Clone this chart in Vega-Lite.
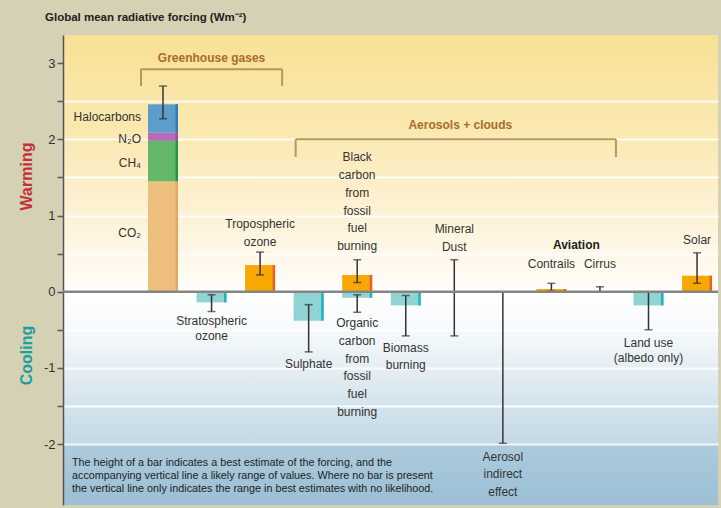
{
  "$schema": "https://vega.github.io/schema/vega-lite/v6.json",
  "width": 655,
  "height": 470,
  "autosize": {"type": "none"},
  "padding": {"left": 63, "top": 35, "right": 3, "bottom": 3},
  "background": "#d5d1b5",
  "title": {
    "text": "Global mean radiative forcing (Wm⁻²)",
    "anchor": "start",
    "frame": "group",
    "dx": -18,
    "offset": 12,
    "fontSize": 11.5,
    "fontWeight": "bold",
    "color": "#222222",
    "font": "Liberation Sans"
  },
  "config": {
    "font": "Liberation Sans",
    "view": {
      "stroke": null,
      "fill": {
        "gradient": "linear",
        "x1": 0, "y1": 0, "x2": 0, "y2": 1,
        "stops": [
          {"offset": 0, "color": "#f8e196"},
          {"offset": 0.2, "color": "#fae8b0"},
          {"offset": 0.38, "color": "#fdf2d6"},
          {"offset": 0.5, "color": "#fffaf0"},
          {"offset": 0.55, "color": "#ffffff"},
          {"offset": 0.63, "color": "#f5f9fb"},
          {"offset": 0.71, "color": "#e5eef3"},
          {"offset": 0.79, "color": "#d3e3ec"},
          {"offset": 0.869, "color": "#c4d9e5"},
          {"offset": 0.872, "color": "#adcbdc"},
          {"offset": 1, "color": "#9bbfd4"}
        ]
      }
    }
  },
  "datasets": {
    "bars": [
      {"cat": "GHG", "kind": "CO₂", "value": 1.45, "seg": 1},
      {"cat": "GHG", "kind": "CH₄", "value": 0.53, "seg": 2},
      {"cat": "GHG", "kind": "N₂O", "value": 0.11, "seg": 3},
      {"cat": "GHG", "kind": "Halocarbons", "value": 0.37, "seg": 4},
      {"cat": "Stratospheric ozone", "kind": "cooling", "value": -0.14, "seg": 1},
      {"cat": "Tropospheric ozone", "kind": "warming", "value": 0.35, "seg": 1},
      {"cat": "Sulphate", "kind": "cooling", "value": -0.38, "seg": 1},
      {"cat": "Fossil fuel carbon", "kind": "warming", "value": 0.22, "seg": 1},
      {"cat": "Fossil fuel carbon", "kind": "cooling", "value": -0.08, "seg": 1},
      {"cat": "Biomass burning", "kind": "cooling", "value": -0.18, "seg": 1},
      {"cat": "Contrails", "kind": "warming", "value": 0.035, "seg": 1},
      {"cat": "Land use", "kind": "cooling", "value": -0.18, "seg": 1},
      {"cat": "Solar", "kind": "warming", "value": 0.21, "seg": 1}
    ],
    "errs": [
      {"cat": "GHG", "lo": 2.27, "hi": 2.7},
      {"cat": "Stratospheric ozone", "lo": -0.26, "hi": -0.04},
      {"cat": "Tropospheric ozone", "lo": 0.22, "hi": 0.52},
      {"cat": "Sulphate", "lo": -0.79, "hi": -0.17},
      {"cat": "Fossil fuel carbon", "lo": 0.12, "hi": 0.42},
      {"cat": "Fossil fuel carbon", "lo": -0.27, "hi": -0.04},
      {"cat": "Biomass burning", "lo": -0.58, "hi": -0.05},
      {"cat": "Mineral dust", "lo": -0.58, "hi": 0.42},
      {"cat": "Aerosol indirect effect", "lo": -1.99, "hi": 0},
      {"cat": "Contrails", "lo": 0.01, "hi": 0.11},
      {"cat": "Cirrus", "lo": 0, "hi": 0.065},
      {"cat": "Land use", "lo": -0.5, "hi": 0},
      {"cat": "Solar", "lo": 0.11, "hi": 0.51}
    ],
    "labels": [
      {"cat": "Tropospheric ozone", "label": "Tropospheric\nozone", "ly": 0.887},
      {"cat": "Sulphate", "label": "Sulphate", "ly": -0.95},
      {"cat": "Fossil fuel carbon", "label": "Black\ncarbon\nfrom\nfossil\nfuel\nburning", "ly": 1.762},
      {"cat": "Fossil fuel carbon", "label": "Organic\ncarbon\nfrom\nfossil\nfuel\nburning", "ly": -0.416},
      {"cat": "Biomass burning", "label": "Biomass\nburning", "ly": -0.736},
      {"cat": "Mineral dust", "label": "Mineral\nDust", "ly": 0.818},
      {"cat": "Aerosol indirect effect", "label": "Aerosol\nindirect\neffect", "ly": -2.167},
      {"cat": "Contrails", "label": "Contrails", "ly": 0.36},
      {"cat": "Cirrus", "label": "Cirrus", "ly": 0.36},
      {"cat": "Solar", "label": "Solar", "ly": 0.68},
      {"cat": "Stratospheric ozone", "label": "Stratospheric\nozone", "ly": -0.382},
      {"cat": "Land use", "label": "Land use\n(albedo only)", "ly": -0.671}
    ],
    "parts": [
      {"cat": "GHG", "label": "Halocarbons", "ly": 2.29},
      {"cat": "GHG", "label": "N₂O", "ly": 2.01},
      {"cat": "GHG", "label": "CH₄", "ly": 1.69},
      {"cat": "GHG", "label": "CO₂", "ly": 0.765}
    ]
  },
  "layer": [
    {
      "layer": [
        {
          "data": {"name": "bars"},
          "mark": {"type": "bar"},
          "encoding": {
            "x": {
              "field": "cat", "type": "nominal",
              "scale": {
                "domain": ["GHG", "Stratospheric ozone", "Tropospheric ozone", "Sulphate", "Fossil fuel carbon", "Biomass burning", "Mineral dust", "Aerosol indirect effect", "Contrails", "Cirrus", "Land use", "Solar"],
                "paddingInner": 0.382, "paddingOuter": 0.9366, "align": 0.9346
              },
              "axis": null
            },
            "y": {
              "field": "value", "type": "quantitative", "stack": "zero",
              "scale": {"domain": [-2.8, 3.37], "nice": false, "zero": false},
              "axis": {
                "title": "Warming",
                "titleColor": "#c4303a",
                "titleFontSize": 16,
                "titleFontWeight": "bold",
                "titleX": -37,
                "titleY": 141,
                "titleAlign": "center",
                "titleBaseline": "middle",
                "values": [-2, -1.5, -1, -0.5, 0, 0.5, 1, 1.5, 2, 2.5, 3],
                "labelExpr": "datum.value % 1 == 0 ? '' + datum.value : ''",
                "labelFontSize": 13,
                "labelColor": "#333333",
                "labelPadding": 2,
                "tickColor": "#555555",
                "tickSize": 6,
                "tickWidth": 1.5,
                "domainColor": "#555555",
                "domainWidth": 1.5,
                "grid": true,
                "gridColor": "#ffffff",
                "gridWidth": 2,
                "gridOpacity": {"condition": {"test": "datum.value == 3 || datum.value == 0", "value": 0}, "value": 0.85}
              }
            },
            "order": {"field": "seg", "type": "quantitative"},
            "color": {
              "field": "kind", "type": "nominal", "legend": null,
              "scale": {
                "domain": ["CO₂", "CH₄", "N₂O", "Halocarbons", "warming", "cooling"],
                "range": ["#ecc07c", "#62b868", "#b46cb8", "#5e9ccc", "#f8a800", "#8fd3d3"]
              }
            }
          }
        },
        {
          "data": {"name": "bars"},
          "mark": {"type": "bar", "width": 2.5, "xOffset": 13.75},
          "encoding": {
            "x": {"field": "cat", "type": "nominal"},
            "y": {"field": "value", "type": "quantitative", "stack": "zero"},
            "order": {"field": "seg", "type": "quantitative"},
            "fill": {
              "field": "kind", "type": "nominal", "legend": null,
              "scale": {
                "domain": ["CO₂", "CH₄", "N₂O", "Halocarbons", "warming", "cooling"],
                "range": ["#deaa62", "#1a9a48", "#9a50a0", "#2c7ab8", "#e8602a", "#20b4c0"]
              }
            }
          }
        },
        {
          "data": {"name": "errs"},
          "mark": {"type": "rule", "color": "#333333", "strokeWidth": 1.5},
          "encoding": {
            "x": {"field": "cat", "type": "nominal"},
            "y": {"field": "lo", "type": "quantitative"},
            "y2": {"field": "hi"}
          }
        },
        {
          "data": {"name": "errs"},
          "mark": {"type": "tick", "color": "#333333", "thickness": 1.5, "size": 8},
          "encoding": {
            "x": {"field": "cat", "type": "nominal"},
            "y": {"field": "lo", "type": "quantitative"}
          }
        },
        {
          "data": {"name": "errs"},
          "mark": {"type": "tick", "color": "#333333", "thickness": 1.5, "size": 8},
          "encoding": {
            "x": {"field": "cat", "type": "nominal"},
            "y": {"field": "hi", "type": "quantitative"}
          }
        },
        {
          "data": {"values": [{}]},
          "mark": {"type": "rule", "color": "#b39a55", "strokeWidth": 2, "xOffset": -22, "x2Offset": 22},
          "encoding": {
            "x": {"datum": "GHG"},
            "x2": {"datum": "Tropospheric ozone"},
            "y": {"datum": 2.92}
          }
        },
        {
          "data": {"values": [{}]},
          "mark": {"type": "rule", "color": "#b39a55", "strokeWidth": 2, "xOffset": -22},
          "encoding": {"x": {"datum": "GHG"}, "y": {"datum": 2.92}, "y2": {"datum": 2.7}}
        },
        {
          "data": {"values": [{}]},
          "mark": {"type": "rule", "color": "#b39a55", "strokeWidth": 2, "xOffset": 22},
          "encoding": {"x": {"datum": "Tropospheric ozone"}, "y": {"datum": 2.92}, "y2": {"datum": 2.7}}
        },
        {
          "data": {"values": [{}]},
          "mark": {"type": "rule", "color": "#b39a55", "strokeWidth": 2, "xOffset": -13, "x2Offset": 16},
          "encoding": {
            "x": {"datum": "Sulphate"},
            "x2": {"datum": "Cirrus"},
            "y": {"datum": 2.0}
          }
        },
        {
          "data": {"values": [{}]},
          "mark": {"type": "rule", "color": "#b39a55", "strokeWidth": 2, "xOffset": -13},
          "encoding": {"x": {"datum": "Sulphate"}, "y": {"datum": 2.0}, "y2": {"datum": 1.77}}
        },
        {
          "data": {"values": [{}]},
          "mark": {"type": "rule", "color": "#b39a55", "strokeWidth": 2, "xOffset": 16},
          "encoding": {"x": {"datum": "Cirrus"}, "y": {"datum": 2.0}, "y2": {"datum": 1.77}}
        },
        {
          "data": {"values": [{"group": "Greenhouse gases"}]},
          "mark": {"type": "text", "color": "#a86c2c", "fontSize": 12, "fontWeight": "bold", "baseline": "middle"},
          "encoding": {
            "x": {"datum": "Stratospheric ozone"},
            "y": {"datum": 3.07},
            "text": {"field": "group"}
          }
        },
        {
          "data": {"values": [{"group": "Aerosols + clouds"}]},
          "mark": {"type": "text", "color": "#a86c2c", "fontSize": 12, "fontWeight": "bold", "baseline": "middle", "dx": 6},
          "encoding": {
            "x": {"datum": "Mineral dust"},
            "y": {"datum": 2.19},
            "text": {"field": "group"}
          }
        },
        {
          "data": {"name": "labels"},
          "transform": [{"filter": "datum.cat != 'Stratospheric ozone' && datum.cat != 'Land use'"}],
          "mark": {"type": "text", "color": "#333333", "fontSize": 12, "baseline": "middle", "lineBreak": "\n", "lineHeight": 17.7},
          "encoding": {
            "x": {"field": "cat", "type": "nominal"},
            "y": {"field": "ly", "type": "quantitative"},
            "text": {"field": "label"}
          }
        },
        {
          "data": {"name": "labels"},
          "transform": [{"filter": "datum.cat == 'Stratospheric ozone' || datum.cat == 'Land use'"}],
          "mark": {"type": "text", "color": "#333333", "fontSize": 12, "baseline": "middle", "lineBreak": "\n", "lineHeight": 15.5},
          "encoding": {
            "x": {"field": "cat", "type": "nominal"},
            "y": {"field": "ly", "type": "quantitative"},
            "text": {"field": "label"}
          }
        },
        {
          "data": {"name": "parts"},
          "mark": {"type": "text", "color": "#333333", "fontSize": 12, "baseline": "middle", "align": "right", "dx": -22},
          "encoding": {
            "x": {"field": "cat", "type": "nominal"},
            "y": {"field": "ly", "type": "quantitative"},
            "text": {"field": "label"}
          }
        },
        {
          "data": {"values": [{"head": "Aviation"}]},
          "mark": {"type": "text", "color": "#222222", "fontSize": 12, "fontWeight": "bold", "baseline": "middle", "dx": 25},
          "encoding": {
            "x": {"datum": "Contrails"},
            "y": {"datum": 0.61},
            "text": {"field": "head"}
          }
        },
        {
          "data": {"values": [{"note": "The height of a bar indicates a best estimate of the forcing, and the\naccompanying vertical line a likely range of values.  Where no bar is present\nthe vertical line only indicates the range in best estimates with no likelihood."}]},
          "mark": {"type": "text", "color": "#222222", "fontSize": 10.8, "baseline": "middle", "align": "left", "dx": -91, "lineBreak": "\n", "lineHeight": 13},
          "encoding": {
            "x": {"datum": "GHG"},
            "y": {"datum": -2.25},
            "text": {"field": "note"}
          }
        }
      ]
    },
    {
      "data": {"values": [{}]},
      "mark": {"type": "rule", "color": "#858585", "strokeWidth": 2.5},
      "encoding": {
        "y": {
          "datum": 0,
          "axis": {
            "title": "Cooling",
            "orient": "left",
            "titleColor": "#1aa0a0",
            "titleFontSize": 16,
            "titleFontWeight": "bold",
            "titleX": -37,
            "titleY": 320,
            "titleAlign": "center",
            "titleBaseline": "middle",
            "domain": false,
            "ticks": false,
            "labels": false,
            "grid": false
          }
        }
      }
    }
  ],
  "resolve": {"axis": {"y": "independent"}}
}
